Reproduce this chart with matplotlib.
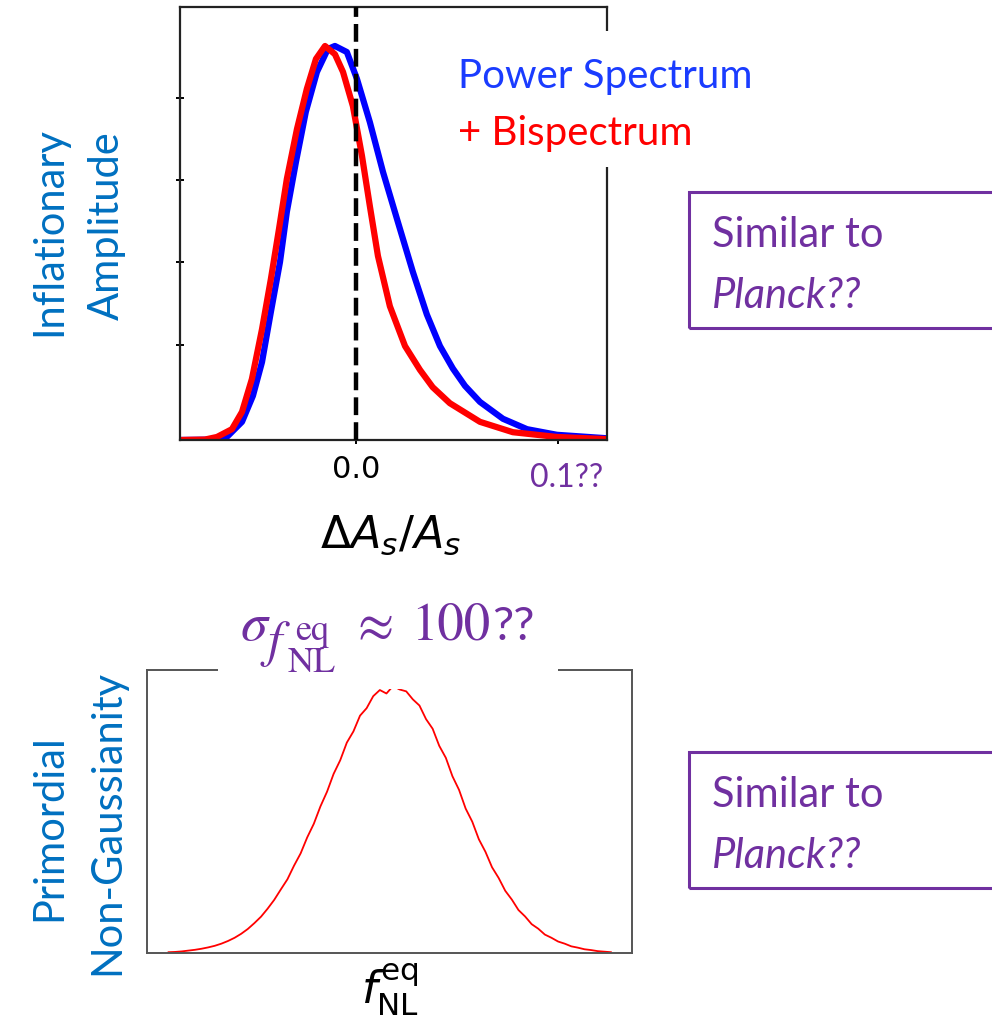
import numpy as np
import matplotlib
matplotlib.use("Agg")
import matplotlib.pyplot as plt
from matplotlib.patches import Rectangle

W, H = 992, 1020

# top panel: posteriors of dA_s/A_s (peak-normalised heights)
ps_x = [-0.0871, -0.0698, -0.0639, -0.0564, -0.0510, -0.0465, -0.0421, -0.0376,
        -0.0342, -0.0297, -0.0248, -0.0193, -0.0139, -0.0104, -0.0045, 0.0005,
        0.0069, 0.0134, 0.0208, 0.0282, 0.0351, 0.0416, 0.0480, 0.0540, 0.0614,
        0.0728, 0.0847, 0.0995, 0.1243]
ps_y = [0.0, 0.001, 0.007, 0.042, 0.102, 0.180, 0.296, 0.411,
        0.527, 0.642, 0.758, 0.850, 0.903, 0.910, 0.896, 0.834,
        0.734, 0.619, 0.503, 0.388, 0.290, 0.217, 0.165, 0.125, 0.088,
        0.049, 0.025, 0.012, 0.004]

bs_x = [-0.0871, -0.0748, -0.0688, -0.0614, -0.0564, -0.0515, -0.0465, -0.0421,
        -0.0381, -0.0342, -0.0292, -0.0243, -0.0198, -0.0153, -0.0104, -0.0064,
        -0.0015, 0.0030, 0.0069, 0.0109, 0.0168, 0.0243, 0.0317, 0.0380, 0.0465,
        0.0614, 0.0777, 0.0995, 0.1243]
bs_y = [0.0, 0.001, 0.007, 0.025, 0.065, 0.141, 0.256, 0.372,
        0.487, 0.603, 0.718, 0.811, 0.880, 0.910, 0.891, 0.850,
        0.771, 0.656, 0.540, 0.425, 0.309, 0.217, 0.162, 0.122, 0.085,
        0.042, 0.018, 0.007, 0.002]

amp_xticks = [0.0, 0.1]
amp_yticks = [0.22, 0.41, 0.60, 0.79]

# bottom panel: f_NL^eq histogram, bin centres every 10
fnl_x = list(range(-340, 340, 10))
fnl_y = [0.003, 0.004, 0.006, 0.009, 0.012, 0.016, 0.021, 0.027, 0.035, 0.045,
         0.057, 0.072, 0.090, 0.112, 0.136, 0.166, 0.199, 0.238, 0.276, 0.327,
         0.373, 0.433, 0.484, 0.549, 0.604, 0.671, 0.722, 0.788, 0.830, 0.889,
         0.917, 0.962, 0.985, 0.972, 1.000, 0.987, 0.980, 0.950, 0.927, 0.876,
         0.840, 0.776, 0.731, 0.662, 0.611, 0.541, 0.492, 0.426, 0.379, 0.321,
         0.281, 0.233, 0.200, 0.161, 0.137, 0.108, 0.091, 0.069, 0.057, 0.043,
         0.035, 0.025, 0.020, 0.014, 0.011, 0.007, 0.005, 0.003]

PURPLE = '#7030A0'
LBLUE = '#0070C0'
SLIDE_FONT = 'Lato'
MATH_FONT = 'STIXGeneral'


def fx(px):
    return px / W


def fy(py):
    return 1 - py / H


fig = plt.figure(figsize=(9.92, 10.2), dpi=100)

# ---- top panel
ax1 = fig.add_axes([fx(180), fy(441), (607 - 180) / W, (441 - 8) / H])
ax1.plot(ps_x, ps_y, color='#0000FF', lw=4.5, solid_joinstyle='round')
ax1.plot(bs_x, bs_y, color='#FF0000', lw=4.5, solid_joinstyle='round')
ax1.axvline(0, color='black', lw=3.2, ls=(0, (4.0, 1.6)), zorder=3)
ax1.set_xlim(-0.0871, 0.1243)
ax1.set_ylim(0, 1)
ax1.set_xticks(amp_xticks)
ax1.set_xticklabels(['0.0', ''])
ax1.set_yticks(amp_yticks)
ax1.set_yticklabels([])
ax1.tick_params(direction='inout', length=6, width=1.4, labelsize=22, pad=7)
for sp in ax1.spines.values():
    sp.set_linewidth(1.6)
    sp.set_color('#222222')

fig.text(fx(567), fy(487), '0.1??', color=PURPLE, fontsize=23,
         family=SLIDE_FONT, ha='center', va='baseline')
fig.text(fx(391), fy(548), r'$\Delta A_s/A_s$', fontsize=32, ha='center',
         va='baseline', math_fontfamily='dejavusans')

# legend-like labels on a white block
fig.add_artist(Rectangle((fx(445), fy(168)), (780 - 445) / W, (168 - 32) / H,
                         transform=fig.transFigure, facecolor='white',
                         edgecolor='none', zorder=5))
fig.text(fx(458), fy(88), 'Power Spectrum', color='#1A3CFF', fontsize=29,
         family=SLIDE_FONT, va='baseline', zorder=6)
fig.text(fx(458), fy(145), '+ Bispectrum', color='#FF0000', fontsize=29,
         family=SLIDE_FONT, va='baseline', zorder=6)

# ---- bottom panel
ax2 = fig.add_axes([fx(147), fy(954), (632 - 147) / W, (954 - 671) / H])
ax2.plot(fnl_x, fnl_y, color='#FF0000', lw=1.3)
ax2.set_xlim(-372.7, 362)
ax2.set_ylim(0, 1.06)
ax2.set_xticks([])
ax2.set_yticks([])
for sp in ax2.spines.values():
    sp.set_linewidth(1.4)
    sp.set_color('#555555')

fig.add_artist(Rectangle((fx(218), fy(690)), (558 - 218) / W, (690 - 650) / H,
                         transform=fig.transFigure, facecolor='white',
                         edgecolor='none', zorder=5))
# sigma_{f_NL^eq} ~ 100?? built from pieces
title_parts = [(241, 640, 'σ', 39, 'italic'), (268, 656, 'f', 37, 'italic'),
               (288, 672, 'NL', 26, 'normal'), (295, 640, 'eq', 26, 'normal'),
               (357, 640, '≈', 38, 'normal'), (411, 640, '100', 38, 'normal')]
for x, y, s, size, st in title_parts:
    fig.text(fx(x), fy(y), s, color=PURPLE, fontsize=size, ha='left',
             va='baseline', family=MATH_FONT, style=st, zorder=6)
fig.text(fx(492), fy(640), '??', color=PURPLE, fontsize=34, family=SLIDE_FONT,
         ha='left', va='baseline', zorder=6)
fig.text(fx(390), fy(990), r'$f_{\mathrm{NL}}^{\mathrm{eq}}$', fontsize=32,
         ha='center', va='center', math_fontfamily='dejavusans')

# ---- side labels
for txt, x, y in [('Inflationary', 49, 231), ('Amplitude', 107, 226),
                  ('Primordial', 49, 828), ('Non-Gaussianity', 107, 822)]:
    fig.text(fx(x), fy(y), txt, rotation=90, color=LBLUE, fontsize=30,
             family=SLIDE_FONT, ha='center', va='center')

# ---- "Similar to Planck??" boxes
for top, bot in [(193, 329), (753, 889)]:
    fig.add_artist(Rectangle((fx(689), fy(bot)), (1100 - 689) / W, (bot - top) / H,
                             transform=fig.transFigure, facecolor='none',
                             edgecolor=PURPLE, lw=2.2))
    fig.text(fx(712), fy(top + 54), 'Similar to', color=PURPLE, fontsize=30,
             family=SLIDE_FONT, va='baseline')
    fig.text(fx(712), fy(top + 115), 'Planck??', color=PURPLE, fontsize=30,
             family=SLIDE_FONT, style='italic', va='baseline')

fig.savefig('out.png', dpi=100)
